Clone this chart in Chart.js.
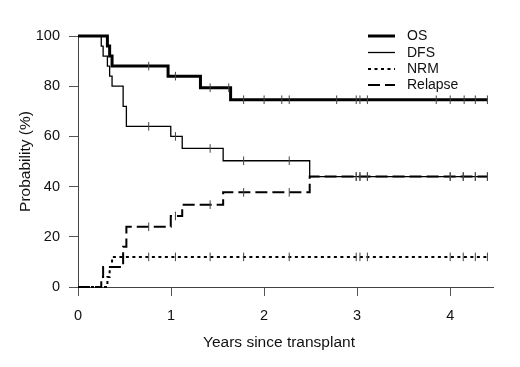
<!DOCTYPE html>
<html>
<head>
<meta charset="utf-8">
<script src="https://cdn.jsdelivr.net/npm/chart.js@4/dist/chart.umd.min.js"></script>
<style>
html,body{margin:0;padding:0;background:#fff;}
canvas{display:block;}
</style>
</head>
<body>
<canvas id="c" width="520" height="367"></canvas>
<script>
// ---- Data (years since transplant, probability %) ----
const osTimes = [0, 0.316, 0.34, 0.366, 0.968, 1.316, 1.64];
const osValues = [100, 96, 92, 88, 84, 79.4, 74.6];
const osCensor = [0.76, 1.047, 1.42, 1.62, 1.78, 2.0, 2.19, 2.27, 2.78, 2.99, 3.03, 3.11, 3.85, 4.0, 4.15, 4.27, 4.40];

const dfsTimes = [0, 0.25, 0.27, 0.316, 0.34, 0.366, 0.485, 0.52, 0.997, 1.12, 1.56, 2.49];
const dfsValues = [100, 96, 92, 88, 84, 80, 72, 64, 60, 55.2, 50.3, 44];

const nrmTimes = [0, 0.316, 0.34, 0.366];
const nrmValues = [0, 4, 8, 12];

const relTimes = [0, 0.25, 0.27, 0.485, 0.52, 0.997, 1.12, 1.56, 2.49];
const relValues = [0, 4, 8, 16, 24, 28.3, 32.8, 37.7, 44];

const otherCensor = [0.76, 1.047, 1.42, 1.78, 2.27, 2.99, 3.03, 3.11, 4.0, 4.14, 4.27, 4.40];
const endTime = 4.40;

const xTicks = [0, 1, 2, 3, 4];
const yTicks = [0, 20, 40, 60, 80, 100];
const seriesNames = ['OS', 'DFS', 'NRM', 'Relapse'];
const xTitle = 'Years since transplant';
const yTitle = 'Probability (%)';

// ---- helpers ----
function stepPoints(times, values) {
  const pts = times.map((t, i) => ({x: t, y: values[i]}));
  pts.push({x: endTime, y: values[values.length - 1]});
  return pts;
}
function valueAt(times, values, t) {
  let v = values[0];
  for (let i = 0; i < times.length; i++) if (times[i] <= t) v = values[i];
  return v;
}
function censorPoints(cTimes, times, values) {
  return cTimes.map(t => ({x: t, y: valueAt(times, values, t)}));
}

const styles = [
  {w: 3, dash: []},
  {w: 1.3, dash: []},
  {w: 2, dash: [3, 3.5]},
  {w: 2, dash: [12, 5]}
];
const curves = [
  [osTimes, osValues, osCensor],
  [dfsTimes, dfsValues, otherCensor],
  [nrmTimes, nrmValues, otherCensor],
  [relTimes, relValues, otherCensor]
];

const datasets = [];
curves.forEach((c, i) => {
  datasets.push({
    type: 'line', label: seriesNames[i],
    data: stepPoints(c[0], c[1]),
    stepped: 'before',
    borderColor: '#000', borderWidth: styles[i].w, borderDash: styles[i].dash,
    pointRadius: 0, fill: false, clip: 6, order: 2
  });
});
curves.forEach((c, i) => {
  datasets.push({
    type: 'scatter', label: seriesNames[i] + ' censored',
    data: censorPoints(c[2], c[0], c[1]),
    pointStyle: 'line', rotation: 90, pointRadius: 4.3,
    borderColor: '#444', borderWidth: 1, showLine: false, clip: 6, order: 1
  });
});

const FAMILY = '"Liberation Sans", Arial, sans-serif';

const legendPlugin = {
  id: 'kmLegend',
  afterDraw(chart) {
    const ctx = chart.ctx;
    const rows = [36, 52.5, 69, 85];
    ctx.save();
    seriesNames.forEach((n, i) => {
      ctx.beginPath();
      ctx.lineWidth = styles[i].w;
      ctx.setLineDash(styles[i].dash);
      ctx.strokeStyle = '#000';
      ctx.moveTo(368, rows[i]);
      ctx.lineTo(395, rows[i]);
      ctx.stroke();
      ctx.setLineDash([]);
      ctx.fillStyle = '#111';
      ctx.font = '14px ' + FAMILY;
      ctx.textBaseline = 'middle';
      ctx.textAlign = 'left';
      ctx.fillText(n, 407, rows[i] + 0.5);
    });
    // x-axis title
    ctx.font = '15.5px ' + FAMILY;
    ctx.textAlign = 'center';
    ctx.textBaseline = 'middle';
    ctx.fillText(xTitle, 279, 343);
    ctx.restore();
  }
};

const fontTick = {family: FAMILY, size: 14.5};
const fontTitle = {family: FAMILY, size: 15.5};

new Chart(document.getElementById('c'), {
  data: {datasets},
  options: {
    responsive: false, animation: false,
    layout: {padding: {top: 36, right: 27, left: 0, bottom: 0}},
    plugins: {legend: {display: false}, tooltip: {enabled: false}},
    scales: {
      x: {
        type: 'linear', min: 0, max: 4.46,
        afterFit(s) { s.height = 80; },
        afterBuildTicks(s) { s.ticks = xTicks.map(v => ({value: v})); },
        ticks: {stepSize: 1, includeBounds: false, color: '#111', font: fontTick, padding: 11, maxRotation: 0},
        grid: {drawOnChartArea: false, drawTicks: true, tickLength: 9, color: '#555'},
        border: {display: true, color: '#444', width: 1},
        title: {display: false}
      },
      y: {
        type: 'linear', min: 0, max: 100,
        afterFit(s) { s.width = 78; },
        afterBuildTicks(s) { s.ticks = yTicks.map(v => ({value: v})); },
        ticks: {stepSize: 20, color: '#111', font: fontTick, padding: 9},
        grid: {drawOnChartArea: false, drawTicks: true, tickLength: 9, color: '#555'},
        border: {display: true, color: '#444', width: 1},
        title: {display: true, text: yTitle, color: '#111', font: fontTitle, padding: {top: 16, bottom: 0}}
      }
    }
  },
  plugins: [legendPlugin]
});
</script>
</body>
</html>
